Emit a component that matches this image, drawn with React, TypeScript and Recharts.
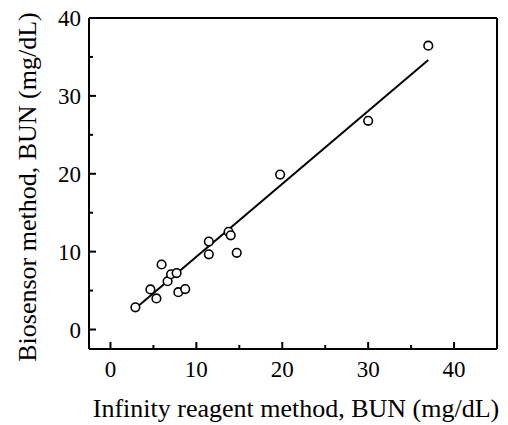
import React from "react";
import {
  ComposedChart, Scatter, Line, XAxis, YAxis, ReferenceLine,
} from "recharts";

// Infinity reagent method (x) vs biosensor method (y), BUN in mg/dL
const infinityBun = [2.9, 4.65, 5.35, 5.95, 6.65, 7.05, 7.7, 7.9, 8.7, 11.45, 11.45, 13.75, 14.0, 14.7, 19.75, 30.0, 37.0];
const biosensorBun = [2.85, 5.15, 4.0, 8.35, 6.2, 7.1, 7.25, 4.8, 5.2, 11.3, 9.65, 12.55, 12.1, 9.85, 19.9, 26.8, 36.45];

// linear fit end points
const fitX = [3, 37];
const fitY = [2.8, 34.6];

const xTicks = [0, 5, 10, 15, 20, 25, 30, 35, 40];
const yTicks = [0, 5, 10, 15, 20, 25, 30, 35, 40];

const points = infinityBun.map((x, i) => ({ x, y: biosensorBun[i] }));
const fitLine = fitX.map((x, i) => ({ x, y: fitY[i] }));

const FONT = '"Liberation Serif", "Times New Roman", serif';

const XTick = ({ x, y, payload }: any) => {
  const major = payload.value % 10 === 0;
  return (
    <g>
      <line x1={x} x2={x} y1={y} y2={y - (major ? 7 : 4)} stroke="#000" strokeWidth={2} />
      {major && (
        <text x={x} y={y + 28} textAnchor="middle" fontSize={23} fontFamily={FONT} fill="#000">
          {payload.value}
        </text>
      )}
    </g>
  );
};

const YTick = ({ x, y, payload }: any) => {
  const major = payload.value % 10 === 0;
  return (
    <g>
      <line x1={x} x2={x + (major ? 7 : 4)} y1={y} y2={y} stroke="#000" strokeWidth={2} />
      {major && (
        <text x={x - 8} y={y + 8} textAnchor="end" fontSize={23} fontFamily={FONT} fill="#000">
          {payload.value}
        </text>
      )}
    </g>
  );
};

const XTitle = () => (
  <text x={296} y={417} textAnchor="middle" fontSize={26} fontFamily={FONT} fill="#000">
    Infinity reagent method, BUN (mg/dL)
  </text>
);

const YTitle = () => (
  <text x={36} y={187} transform="rotate(-90 36 187)" textAnchor="middle" fontSize={26} fontFamily={FONT} fill="#000">
    Biosensor method, BUN (mg/dL)
  </text>
);

const Circle = ({ cx, cy }: any) => (
  <circle cx={cx} cy={cy} r={4.3} fill="#fff" stroke="#000" strokeWidth={1.6} />
);

export default function App() {
  return (
    <div style={{ margin: "-8px 0 0 -8px", width: 508, height: 425 }}>
      <ComposedChart width={508} height={425} margin={{ top: 18, right: 11, bottom: 10, left: 0 }}>
        <XAxis
          type="number"
          dataKey="x"
          domain={[-2.5, 45]}
          ticks={xTicks}
          tick={<XTick />}
          tickSize={0}
          tickMargin={0}
          tickLine={false}
          axisLine={{ stroke: "#000", strokeWidth: 2 }}
          height={66}
          allowDataOverflow
          label={<XTitle />}
        />
        <YAxis
          type="number"
          dataKey="y"
          domain={[-2.5, 40]}
          ticks={yTicks}
          tick={<YTick />}
          tickSize={0}
          tickMargin={0}
          tickLine={false}
          axisLine={{ stroke: "#000", strokeWidth: 2 }}
          width={89}
          allowDataOverflow
          label={<YTitle />}
        />
        <ReferenceLine y={40} stroke="#000" strokeWidth={2} ifOverflow="extendDomain" />
        <ReferenceLine x={45} stroke="#000" strokeWidth={2} ifOverflow="extendDomain" />
        <Line
          data={fitLine}
          dataKey="y"
          stroke="#000"
          strokeWidth={2}
          dot={false}
          activeDot={false}
          isAnimationActive={false}
        />
        <Scatter data={points} dataKey="y" shape={<Circle />} isAnimationActive={false} />
      </ComposedChart>
    </div>
  );
}
